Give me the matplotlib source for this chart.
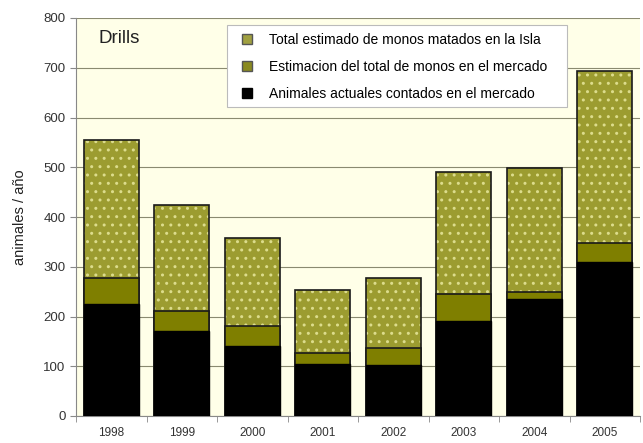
import matplotlib
matplotlib.use("Agg")
import matplotlib.pyplot as plt
import numpy as np
from matplotlib.patches import Patch, Rectangle

years = ["1998", "1999", "2000", "2001", "2002", "2003", "2004", "2005"]
# cumulative heights (top of each segment)
total_isla = [555, 424, 358, 253, 278, 490, 499, 693]
estim_mercado = [277, 212, 180, 127, 137, 245, 250, 347]
contados = [225, 171, 141, 104, 103, 191, 235, 309]

labels = ["Total estimado de monos matados en la Isla",
          "Estimacion del total de monos en el mercado",
          "Animales actuales contados en el mercado"]

plt.rcParams['font.family'] = ['Liberation Sans Narrow', 'Liberation Sans', 'DejaVu Sans']

W, H = 643, 443
fig = plt.figure(figsize=(W/100, H/100), dpi=100)
fig.patch.set_facecolor('white')
ax = fig.add_axes([76/W, 1-416/H, 564/W, 398/H])
ax.set_facecolor('#FFFFE8')

x = np.arange(len(years))
w = 0.78
c_total = '#9C9C30'
c_est = '#7F7F00'

# dotted bars
ax.bar(x, total_isla, w, color=c_total, edgecolor='#DCDC8C', hatch='..', linewidth=0, zorder=2)
ax.bar(x, total_isla, w, fill=False, edgecolor='#1a1a1a', linewidth=1.2, zorder=3)
ax.bar(x, estim_mercado, w, color=c_est, edgecolor='#1a1a1a', linewidth=1.2, zorder=4)
ax.bar(x, contados, w, color='black', edgecolor='black', linewidth=1.0, zorder=5)

ax.set_xlim(-0.5, len(years) - 0.5)
ax.set_ylim(0, 800)
ax.set_yticks(range(0, 801, 100))
ax.set_xticks(x)
ax.set_xticklabels(years)
ax.set_xticks(np.arange(-0.5, len(years), 1), minor=True)
ax.tick_params(axis='x', which='major', length=0, pad=8, labelsize=8.5, colors='#333333')
ax.tick_params(axis='x', which='minor', length=4, color='#888888')
ax.tick_params(axis='y', length=4, color='#888888', labelsize=9.5, labelcolor='#333333')
ax.grid(axis='y', color='#8A8A70', linewidth=0.8, zorder=0)
ax.set_axisbelow(True)
for s in ['top', 'right']:
    ax.spines[s].set_visible(False)
ax.spines['left'].set_color('#888888')
ax.spines['bottom'].set_color('#888888')

ax.set_ylabel('animales / año', fontsize=10.5, color='#222222', labelpad=12)
ax.text(0.04, 0.97, 'Drills', transform=ax.transAxes, fontsize=13.5, color='#222222',
        va='top', ha='left')

# legend frame (pixel box 227..567 x 25..107)
fx0, fy0, fx1, fy1 = 227, 25, 567, 107
frame = Rectangle((fx0/W, 1-fy1/H), (fx1-fx0)/W, (fy1-fy0)/H, transform=fig.transFigure,
                  facecolor='white', edgecolor='#BBBBBB', linewidth=0.8, zorder=9)
fig.add_artist(frame)

handles = [Patch(facecolor='#A0A040', edgecolor='#555555'),
           Patch(facecolor='#8A8A20', edgecolor='#555555'),
           Patch(facecolor='black', edgecolor='black')]
leg = fig.legend(handles, labels, loc='upper left', bbox_to_anchor=(238/W, 1-29/H),
                 fontsize=10, frameon=False, handlelength=0.7, handleheight=0.7,
                 handletextpad=1.2, borderpad=0.3, labelspacing=0.92, borderaxespad=0)
leg.set_zorder(10)

fig.savefig('out.png', dpi=100)
